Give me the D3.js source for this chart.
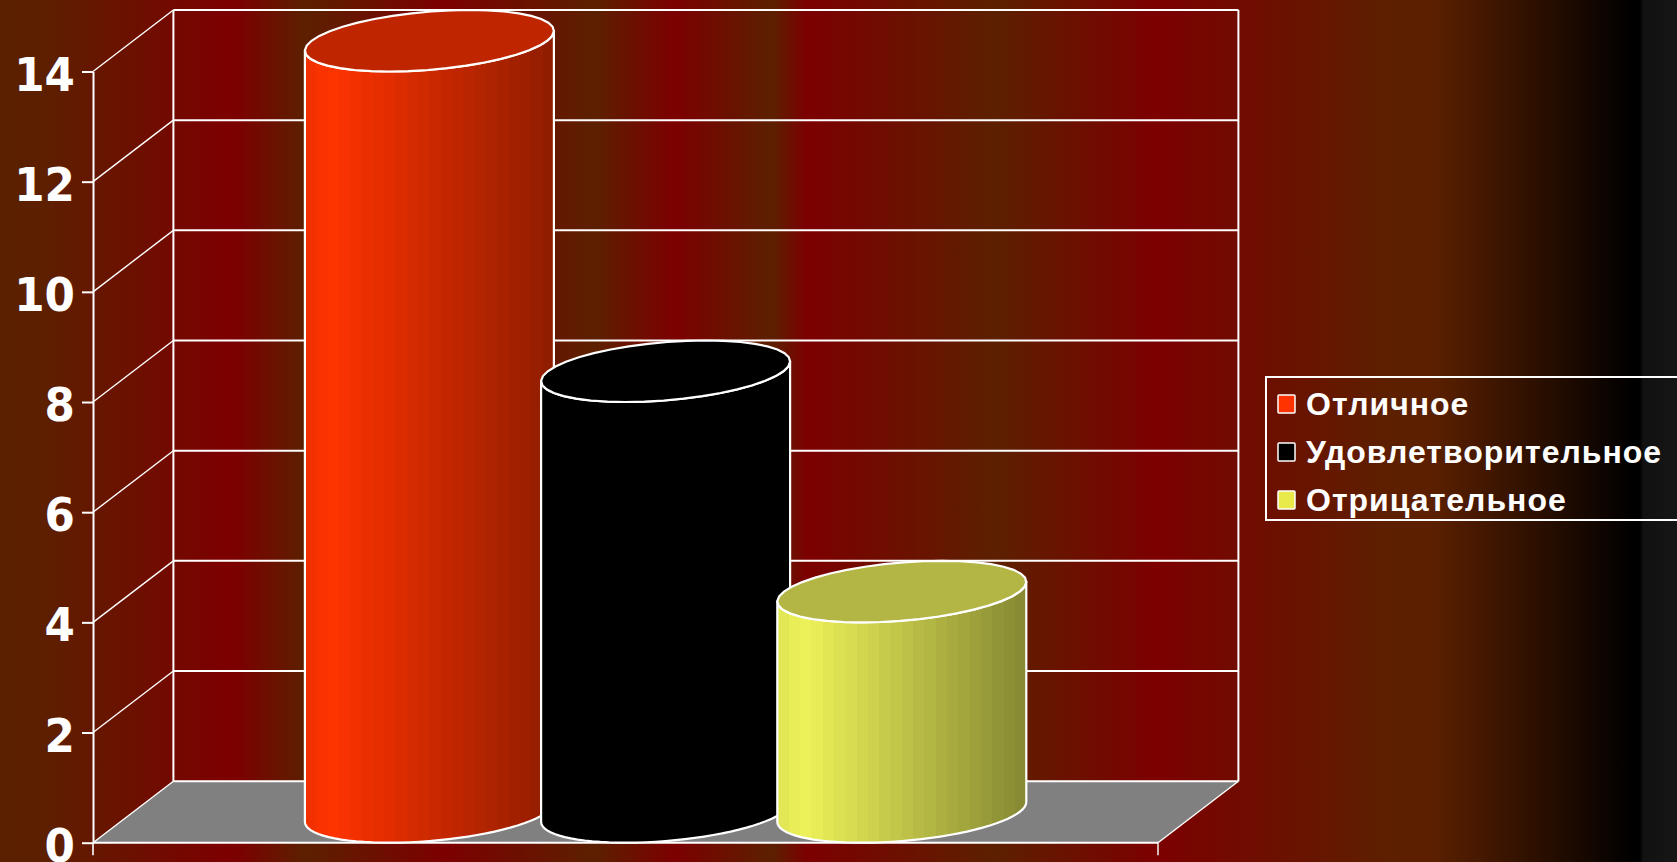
<!DOCTYPE html>
<html><head><meta charset="utf-8">
<script src="https://cdnjs.cloudflare.com/ajax/libs/d3/7.8.5/d3.min.js"></script>
<style>html,body{margin:0;padding:0;background:#000;overflow:hidden}svg{display:block}</style>
</head><body><svg id="c" width="1677" height="862"></svg>
<script>
const categories = ["Отличное", "Удовлетворительное", "Отрицательное"];
const values = [14, 8, 4];
const colors = ["#ff3300", "#000000", "#eef35a"];
const yTicks = [0, 2, 4, 6, 8, 10, 12, 14];
const bgStops = [[0,"#5a2000"],[40,"#5c2000"],[225,"#7c0000"],[240,"#7a0200"],[305,"#5c2000"],[444,"#7c0000"],[594,"#5c2000"],[674,"#7c0000"],[772,"#5c2000"],[807,"#7c0000"],[995,"#5c2000"],[1155,"#7c0000"],[1395,"#5c2000"],[1430,"#5c2000"],[1634,"#000000"],[1640,"#000000"],[1643,"#111111"],[1677,"#161616"]];

const W = 1677, H = 862;
const depthX = 80.4, depthY = 61.5;
const y = d3.scaleLinear().domain([0, 14]).range([842.7, 71.5]);
const x = d3.scalePoint().domain(categories).range([429.4, 901.8]);
const frontL = 93, frontR = 1158;
const backL = frontL + depthX, backR = frontR + depthX;
const R = 124.5, hx = depthX / 2, hy = depthY / 2, A = Math.sqrt(R * R - hx * hx);

const svg = d3.select("#c");
const defs = svg.append("defs");
defs.append("linearGradient").attr("id", "bg").attr("x1", 0).attr("x2", 1).attr("y1", 0).attr("y2", 0)
  .selectAll("stop").data(bgStops).join("stop")
  .attr("offset", d => d[0] / W).attr("stop-color", d => d[1]);
svg.append("rect").attr("width", W).attr("height", H).attr("fill", "url(#bg)");

// floor
const line = d3.line();
svg.append("path").attr("fill", "#808080")
  .attr("d", line([[frontL, y(0)], [backL, y(0) - depthY], [backR, y(0) - depthY], [frontR, y(0)]]) + "Z");

// walls
const g = svg.append("g").attr("stroke", "#fff").attr("fill", "none");
g.selectAll(".grid").data(yTicks).join("line").attr("class", "grid")
  .attr("x1", backL).attr("x2", backR)
  .attr("y1", d => y(d) - depthY).attr("y2", d => y(d) - depthY).attr("stroke-width", 2);
g.selectAll(".side").data(yTicks).join("line").attr("class", "side")
  .attr("x1", frontL).attr("x2", backL)
  .attr("y1", d => y(d)).attr("y2", d => y(d) - depthY).attr("stroke-width", 1.4);
g.append("line").attr("x1", backL).attr("x2", backL).attr("y1", y(14) - depthY).attr("y2", y(0) - depthY).attr("stroke-width", 2);
g.append("line").attr("x1", backR).attr("x2", backR).attr("y1", y(14) - depthY).attr("y2", y(0) - depthY).attr("stroke-width", 2);
g.append("line").attr("x1", frontR).attr("x2", backR).attr("y1", y(0)).attr("y2", y(0) - depthY).attr("stroke-width", 1.4);
g.append("line").attr("x1", frontL).attr("x2", frontR).attr("y1", y(0)).attr("y2", y(0)).attr("stroke-width", 2);
g.append("line").attr("x1", frontL).attr("x2", frontL).attr("y1", y(0)).attr("y2", y(0) + 12.5).attr("stroke-width", 1.6);
g.append("line").attr("x1", frontR).attr("x2", frontR).attr("y1", y(0)).attr("y2", y(0) + 12.5).attr("stroke-width", 1.4);

// axis
const axis = d3.axisLeft(y).tickValues(yTicks).tickSize(11).tickSizeOuter(0).tickPadding(0).tickFormat(d3.format("d"));
const ag = svg.append("g").attr("transform", `translate(${frontL},0)`).call(axis);
ag.select(".domain").attr("stroke", "#fff").attr("stroke-width", 2);
ag.selectAll(".tick line").attr("stroke", "#fff").attr("stroke-width", 2);
ag.selectAll(".tick text").remove();
ag.selectAll(".tick").append("text")
  .attr("fill", "#fff").attr("text-anchor", "end")
  .attr("font-family", "'DejaVu Sans'").attr("font-weight", "bold").attr("font-size", 46)
  .attr("transform", "translate(-18,18.5) scale(0.95,1)")
  .text(d => d);

// cylinders
const shade = (col, k) => { const c = d3.rgb(col); return d3.rgb(c.r * k, c.g * k, c.b * k).formatHex(); };
const bright = d3.scaleLinear().domain([0, 0.08, 1]).range([0.95, 1, 0.57]);
const bands = d3.range(22);
colors.forEach((col, i) => {
  const gr = defs.append("linearGradient").attr("id", "cyl" + i).attr("x1", 0).attr("x2", 1).attr("y1", 0).attr("y2", 0);
  bands.forEach(b => {
    const c = shade(col, bright(b / 21));
    gr.append("stop").attr("offset", b / 22).attr("stop-color", c);
    gr.append("stop").attr("offset", (b + 1) / 22).attr("stop-color", c);
  });
});
const pt = (cx, cy, t) => [cx + A * Math.cos(t) + hx * Math.sin(t), cy - hy * Math.sin(t)];
const tL = Math.atan2(-hx, -A), tR = Math.atan2(hx, A);
const arc = (cx, cy, a, b) => d3.range(41).map(k => pt(cx, cy, a + (b - a) * k / 40));

const bars = svg.append("g").selectAll("g").data(categories).join("g");
bars.append("path").attr("class", "body")
  .attr("d", (d, i) => {
    const cx = x(d), top = y(values[i]) - hy, base = y(0) - hy;
    return line([...arc(cx, top, tL, tR), ...arc(cx, base, tR, tL)]) + "Z";
  })
  .attr("fill", (d, i) => `url(#cyl${i})`).attr("stroke", "#fff").attr("stroke-width", 2.2).attr("stroke-linejoin", "round");
bars.append("path").attr("class", "top")
  .attr("d", (d, i) => line(arc(x(d), y(values[i]) - hy, 0, 2 * Math.PI)) + "Z")
  .attr("fill", (d, i) => shade(colors[i], 0.75)).attr("stroke", "#fff").attr("stroke-width", 2.2);

// legend
const legend = svg.append("g");
legend.append("rect").attr("x", 1266).attr("y", 377).attr("width", 420).attr("height", 143)
  .attr("fill", "none").attr("stroke", "#fff").attr("stroke-width", 2);
const ly = d3.scalePoint().domain(categories).range([403, 499]);
const items = legend.selectAll(".it").data(categories).join("g").attr("class", "it")
  .attr("transform", d => `translate(0,${ly(d)})`);
items.append("rect").attr("x", 1278).attr("y", -8).attr("width", 17).attr("height", 18)
  .attr("fill", (d, i) => colors[i] === "#eef35a" ? "#e8ea4c" : colors[i]).attr("stroke", "#fff").attr("stroke-width", 1.5).attr("rx", 1);
items.append("text").attr("x", 1306).attr("y", 12)
  .attr("fill", "#fff").attr("font-family", "'Liberation Sans'").attr("font-weight", "bold")
  .attr("font-size", 32).attr("letter-spacing", 1).text(d => d);
</script></body></html>
